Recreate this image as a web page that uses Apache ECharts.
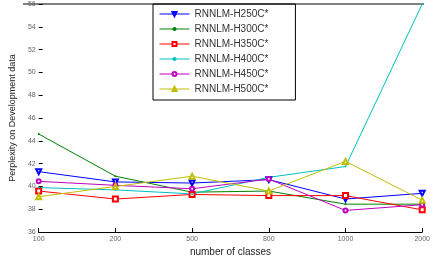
<!DOCTYPE html>
<html>
<head>
<meta charset="UTF-8">
<script src="https://cdn.jsdelivr.net/npm/echarts@6/dist/echarts.min.js"></script>
<style>html,body{margin:0;padding:0;background:#fff}</style>
</head>
<body>
<div id="main" style="width:433px;height:262px;"></div>
<script>
var classes = ['100', '200', '500', '800', '1000', '2000'];
var h250 = [41.3, 40.4, 40.3, 40.6, 38.9, 39.4];
var h300 = [44.6, 40.9, 39.5, 39.6, 38.45, 38.45];
var h350 = [39.6, 38.9, 39.3, 39.2, 39.2, 37.95];
var h400 = [39.9, 39.7, 39.35, 40.8, 41.75, 56.0];
var h450 = [40.45, 40.1, 39.8, 40.65, 37.9, 38.4];
var h500 = [39.1, 40.0, 40.9, 39.6, 42.2, 38.8];

var myChart = echarts.init(document.getElementById('main'));

function mk(name, data, color, symbol, size, rot) {
    return {
        name: name, type: 'line', data: data,
        symbol: symbol, symbolSize: size, symbolRotate: rot || 0,
        showAllSymbol: true,
        lineStyle: {color: color, width: 1},
        itemStyle: {color: color, borderWidth: 1},
        emphasis: {disabled: true}
    };
}

var option = {
    animation: false,
    grid: {left: 23, right: 9, top: 4, bottom: 25},
    legend: {
        orient: 'vertical',
        left: 153, top: 4,
        padding: [5, 27, 6, 6],
        itemWidth: 30, itemHeight: 5, itemGap: 5,
        borderColor: '#000', borderWidth: 1,
        lineStyle: {width: 1},
        itemStyle: {borderWidth: 1},
        textStyle: {fontFamily: 'Liberation Sans', fontSize: 10, color: '#333'},
        data: ['RNNLM-H250C*', 'RNNLM-H300C*', 'RNNLM-H350C*', 'RNNLM-H400C*', 'RNNLM-H450C*', 'RNNLM-H500C*']
    },
    xAxis: {
        type: 'category', boundaryGap: false, data: classes,
        name: 'number of classes', nameLocation: 'middle', nameGap: 13,
        nameTextStyle: {fontFamily: 'Liberation Sans', fontSize: 10, color: '#222'},
        axisLine: {lineStyle: {color: '#000'}},
        axisTick: {inside: true, length: 4, lineStyle: {color: '#000'}},
        axisLabel: {fontFamily: 'Liberation Sans', fontSize: 7, color: '#666', margin: 3},
        splitLine: {show: false}
    },
    yAxis: {
        type: 'value', min: 36, max: 56, interval: 2,
        name: 'Perplexity on Development data', nameLocation: 'middle', nameGap: 14,
        nameTextStyle: {fontFamily: 'Liberation Sans', fontSize: 9, color: '#222'},
        axisLine: {show: false},
        axisTick: {show: true, inside: true, length: 4, lineStyle: {color: '#000'}},
        axisLabel: {fontFamily: 'Liberation Sans', fontSize: 7, color: '#666', margin: 3},
        splitLine: {show: false}
    },
    series: [
        mk('RNNLM-H250C*', h250, '#0000ff', 'emptyTriangle', 5, 180),
        mk('RNNLM-H300C*', h300, '#008000', 'circle', 2),
        mk('RNNLM-H350C*', h350, '#ff0000', 'emptyRect', 5),
        mk('RNNLM-H400C*', h400, '#00bfbf', 'circle', 2),
        mk('RNNLM-H450C*', h450, '#bf00bf', 'emptyCircle', 4),
        mk('RNNLM-H500C*', h500, '#bfbf00', 'emptyTriangle', 5)
    ],
    graphic: [
        {type: 'line', shape: {x1: 23, y1: 4, x2: 424, y2: 4}, style: {stroke: '#000', lineWidth: 1}}
    ]
};
myChart.setOption(option);
</script>
</body>
</html>
